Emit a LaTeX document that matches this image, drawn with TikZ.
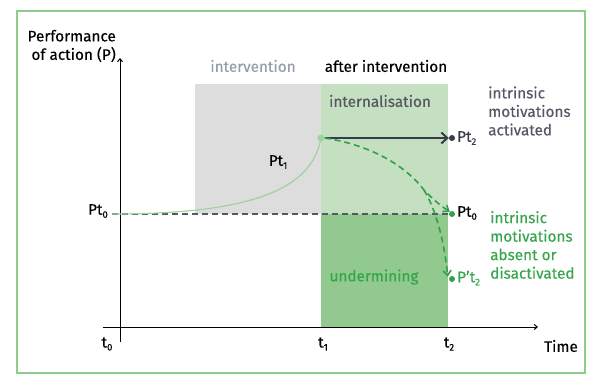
\documentclass[tikz,border=0pt]{standalone}
\usepackage{fontspec}
\setmainfont{Fira Sans}[BoldFont={Fira Sans}, BoldFeatures={FakeBold=0.35}]
\usetikzlibrary{arrows.meta}
\definecolor{framegreen}{RGB}{140,205,140}
\definecolor{graybox}{RGB}{221,221,221}
\definecolor{lightgreenbox}{RGB}{196,224,192}
\definecolor{darkgreenbox}{RGB}{146,201,142}
\definecolor{greentext}{RGB}{55,165,75}
\definecolor{dashgreen}{RGB}{50,160,70}
\definecolor{curvegreen}{RGB}{160,210,160}
\definecolor{darkline}{RGB}{55,60,75}
\definecolor{graytext}{RGB}{150,158,168}
\definecolor{darktext}{RGB}{85,88,100}
\newcommand{\sbx}[1]{\raisebox{-3pt}{\fontsize{9.5}{9.5}\selectfont #1}}
\tikzset{
  lbl/.style={inner sep=0pt, font=\fontsize{15.3}{18.5}\selectfont\bfseries},
  gdot/.style={circle, fill=dashgreen, inner sep=0pt, minimum size=6pt},
  ddot/.style={circle, fill=darkline, inner sep=0pt, minimum size=6pt},
  gdash/.style={dashgreen, line width=1.6pt, dash pattern=on 6pt off 4pt, -{Straight Barb[length=5pt,width=8pt]}},
  axisline/.style={black, line width=1pt}
}
\begin{document}
\begin{tikzpicture}[x=1pt,y=-1pt]
\useasboundingbox (0,0) rectangle (600,388);
\draw[framegreen, line width=1.6pt] (17,11) rectangle (585,373);
\fill[graybox] (195,84) rectangle (321,214);
\fill[lightgreenbox] (321,84) rectangle (448,214);
\fill[darkgreenbox] (321,214) rectangle (448,327);
% axes
\coordinate (ybot) at (120,342);
\coordinate (ytop) at (120,58);
\coordinate (xl) at (103,327);
\coordinate (xr) at (538,327);
\draw[axisline, -{Straight Barb[length=3pt,width=5pt]}] (ybot) -- (ytop);
\draw[axisline, -{Straight Barb[length=3pt,width=5pt]}] (xl) -- (xr);
% Pt0 dashed line
\coordinate (p0l) at (112,214);
\node[gdot] (pt0) at (452,214) {};
\draw[darkline!85, line width=1.4pt, dash pattern=on 6pt off 4pt] (p0l) -- (pt0.west);
% curve to Pt1
\node[circle, fill=curvegreen, inner sep=0pt, minimum size=7pt] (pt1) at (321,138) {};
\draw[curvegreen, line width=1.2pt] (p0l) .. controls (250,214) and (312,190) .. (pt1.center);
% arrow to Pt2
\node[ddot] (pt2) at (452,138) {};
\draw[darkline, line width=2pt, -{Straight Barb[length=6pt,width=11pt]}] (pt1.east) -- (pt2.west);
% green dashed curves
\node[gdot] (pp2) at (452,279) {};
\coordinate (split) at (424,190);
\draw[gdash] (pt1.east) .. controls (370,145) and (405,165) .. (split) .. controls (432,198) and (438,204) .. (pt0.north west);
\draw[gdash] (split) .. controls (436,210) and (444,240) .. ([xshift=-2pt]pp2.north west);
% labels
\node[lbl, anchor=east, align=right, text=black] (ylab) at (116,46) {Performance\\of action (P)};
\node[lbl, text=graytext] (lint) at (253,66) {intervention};
\node[lbl, text=black] (lafter) at (386,66) {after intervention};
\node[lbl, text=darktext] (linternal) at (380,101) {internalisation};
\node[lbl, text=greentext] (lunder) at (374,277) {undermining};
\node[lbl, text=black] (lpt1) at (278,162) {Pt\sbx{1}};
\node[lbl, text=darkline, anchor=west] (lpt2) at (457,138) {Pt\sbx{2}};
\node[lbl, text=black, anchor=west] (lpt0r) at (457,213) {Pt\sbx{0}};
\node[lbl, text=greentext, anchor=west] (lpp2) at (457,278) {P’t\sbx{2}};
\node[lbl, text=black, anchor=east] (lpt0l) at (108,211) {Pt\sbx{0}};
\node[lbl, text=darktext, anchor=west, align=left] (lact) at (488,111) {intrinsic\\motivations\\activated};
\node[lbl, text=greentext, anchor=west, align=left] (labs) at (490,245) {intrinsic\\motivations\\absent or\\disactivated};
\node[lbl, text=black] (lt0) at (107,344) {t\sbx{0}};
\node[lbl, text=black] (lt1) at (323,344) {t\sbx{1}};
\node[lbl, text=black] (lt2) at (449,344) {t\sbx{2}};
\node[lbl, text=black] (ltime) at (561,346) {Time};
\end{tikzpicture}
\end{document}
